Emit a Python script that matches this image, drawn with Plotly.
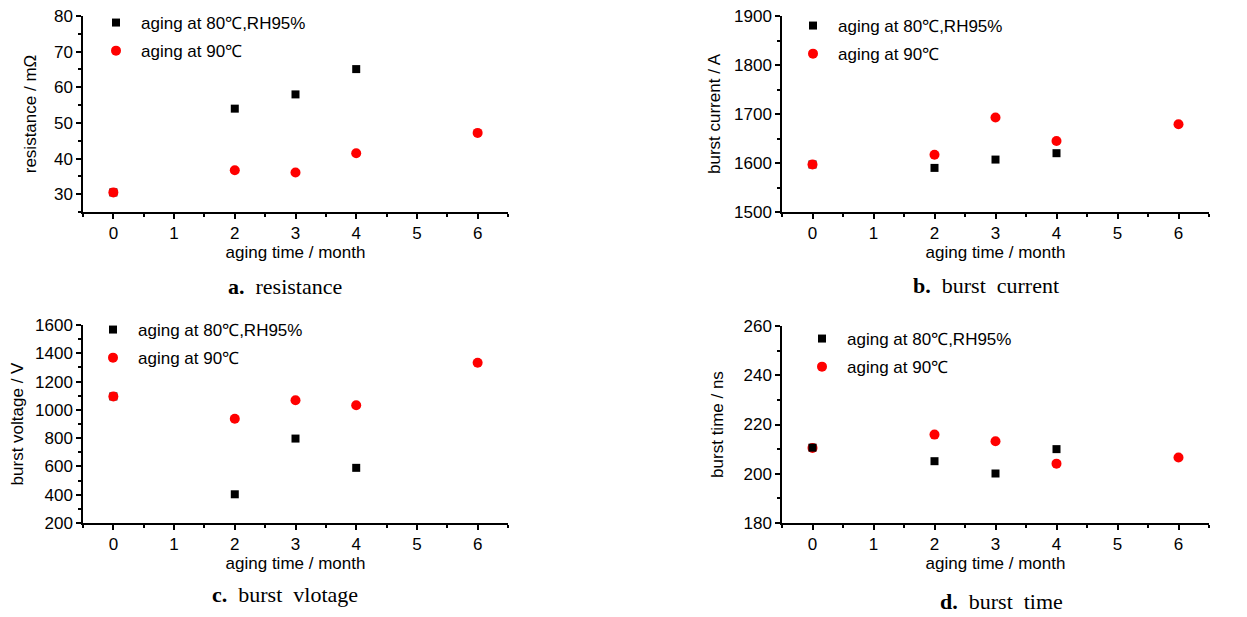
import plotly.graph_objects as go

W, H = 1247, 617
OFF = 8  # browser body margin
FW, FH = W - OFF, H - OFF

months = [0, 2, 3, 4, 6]
months_80 = [0, 2, 3, 4]

res_80 = [30.5, 54.0, 58.0, 65.1]
res_90 = [30.5, 36.7, 36.1, 41.5, 47.2]

cur_80 = [1597, 1590, 1607, 1620]
cur_90 = [1597, 1617, 1693, 1645, 1679]

vol_80 = [1095, 403, 797, 590]
vol_90 = [1095, 937, 1068, 1033, 1333]

tim_80 = [210.6, 205.1, 200.1, 210.0]
tim_90 = [210.5, 215.9, 213.2, 204.1, 206.6]

x_ticks = [0, 1, 2, 3, 4, 5, 6]
name_80 = "aging at 80℃,RH95%"
name_90 = "aging at 90℃"

captions = ["a.", "b.", "c.", "d."]
caption_text = ["resistance", "burst\u00a0 current", "burst\u00a0 vlotage", "burst\u00a0 time"]
y_titles = ["resistance / mΩ", "burst current / A", "burst voltage / V", "burst time / ns"]

FONT = "Liberation Sans, Arial"
SERIF = "Liberation Serif, Times New Roman, serif"
FS = 17

def px(x):
    return (x - OFF) / FW

def py(y):
    return 1 - (y - OFF) / FH

# plot-area boxes in page pixels: (left, right, top, bottom)
boxes = [(83, 508, 16, 212), (782, 1209, 16, 212), (83, 508, 325, 523), (782, 1209, 326, 523)]
yranges = [[25, 80], [1500, 1900], [200, 1600], [180, 260]]
ydticks = [10, 100, 200, 20]
yminor = [5, 50, 100, 10]
standoffs = [13, 9, 11, 16]
legend_pos = [(91, 5), (788, 8), (88, 312), (797, 321)]
cap_pos = [(285, 286), (986, 285), (285, 594), (1001, 601)]

series = [(res_80, res_90), (cur_80, cur_90), (vol_80, vol_90), (tim_80, tim_90)]

fig = go.Figure()
for i, (s80, s90) in enumerate(series):
    ax = "" if i == 0 else str(i + 1)
    lg = "legend" if i == 0 else "legend" + str(i + 1)
    t80 = go.Scatter(x=months_80, y=s80, mode="markers", name=name_80,
                     marker=dict(symbol="square", size=8, color="black"),
                     xaxis="x" + ax, yaxis="y" + ax, legend=lg, legendrank=1,
                     legendgroup="g80_" + str(i))
    t90 = go.Scatter(x=months, y=s90, mode="markers", name=name_90,
                     marker=dict(symbol="circle", size=10, color="#ff0000"),
                     xaxis="x" + ax, yaxis="y" + ax, legend=lg, legendrank=2,
                     legendgroup="g90_" + str(i))
    if i == 3:
        fig.add_trace(t90)
        fig.add_trace(t80)
    else:
        fig.add_trace(t80)
        fig.add_trace(t90)

layout = dict(width=FW, height=FH, margin=dict(l=0, r=0, t=0, b=0, autoexpand=False),
              paper_bgcolor="white", plot_bgcolor="white",
              font=dict(family=FONT, size=FS, color="black"),
              showlegend=True)

annotations = []
for i, (l, r, t, b) in enumerate(boxes):
    ax = "" if i == 0 else str(i + 1)
    layout["xaxis" + ax] = dict(
        domain=[px(l), px(r)], anchor="y" + ax, range=[-0.5, 6.5], automargin=False,
        tickvals=x_ticks, ticks="outside", ticklen=5, tickwidth=1.5,
        showline=True, linecolor="black", linewidth=1.5, showgrid=False, zeroline=False,
        tickfont=dict(family=FONT, size=FS), ticklabeloverflow="allow",
        minor=dict(dtick=0.5, tick0=0.5, ticks="outside", ticklen=3, tickwidth=1.5, tickcolor="black", showgrid=False),
        title=dict(text="aging time / month", font=dict(family=FONT, size=FS), standoff=2),
        tickcolor="black")
    layout["yaxis" + ax] = dict(
        domain=[py(b), py(t)], anchor="x" + ax, range=yranges[i], automargin=False,
        dtick=ydticks[i], ticks="outside", ticklen=5, tickwidth=1.5, tickcolor="black",
        showline=True, linecolor="black", linewidth=1.5, showgrid=False, zeroline=False,
        tickfont=dict(family=FONT, size=FS), ticklabeloverflow="allow",
        minor=dict(dtick=yminor[i], ticks="outside", ticklen=3, tickwidth=1.5, tickcolor="black", showgrid=False),
        title=dict(text=y_titles[i], font=dict(family=FONT, size=FS), standoff=standoffs[i]))
    lg = "legend" if i == 0 else "legend" + str(i + 1)
    lx, ly = legend_pos[i]
    layout[lg] = dict(x=px(lx), y=py(ly), xanchor="left", yanchor="top",
                      bgcolor="rgba(0,0,0,0)", font=dict(family=FONT, size=FS, color="black"),
                      itemwidth=40, tracegroupgap=3, traceorder="grouped")
    cx, cy = cap_pos[i]
    annotations.append(dict(x=px(cx), y=py(cy), xref="paper", yref="paper",
                            text="<b>" + captions[i] + "</b>\u00a0 " + caption_text[i],
                            showarrow=False, xanchor="center", yanchor="middle",
                            font=dict(family=SERIF, size=22, color="black")))

layout["annotations"] = annotations
fig.update_layout(**layout)
fig.write_html("out.html")
